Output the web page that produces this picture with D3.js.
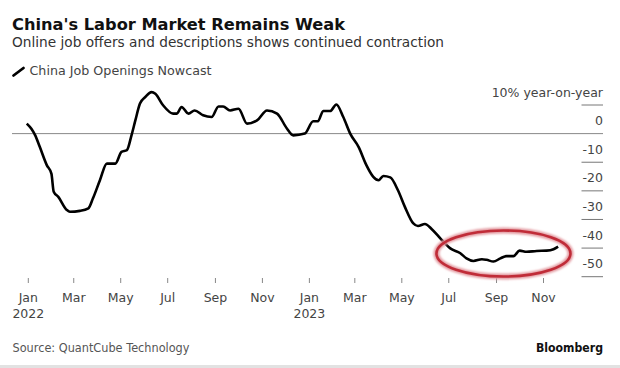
<!DOCTYPE html>
<html>
<head>
<meta charset="utf-8">
<script src="https://cdn.jsdelivr.net/npm/d3@7.9.0/dist/d3.min.js"></script>
<style>
  html, body { margin: 0; padding: 0; background: #fff; }
  svg { display: block; font-family: "DejaVu Sans", sans-serif; }
</style>
</head>
<body>
<div id="chart"></div>
<script>
// values (% year-on-year)
const dates = [
  "2021-12-30","2022-01-05","2022-01-10","2022-01-16","2022-01-25","2022-01-31",
  "2022-02-03","2022-02-09","2022-02-20","2022-02-24","2022-03-09","2022-03-20",
  "2022-03-26","2022-04-04","2022-04-13","2022-04-24","2022-05-02","2022-05-09",
  "2022-05-15","2022-05-20","2022-05-26","2022-06-02","2022-06-10","2022-06-15",
  "2022-06-25","2022-07-08","2022-07-13","2022-07-19","2022-07-28","2022-08-05",
  "2022-08-16","2022-08-27","2022-09-05","2022-09-11","2022-09-20","2022-10-01",
  "2022-10-12","2022-10-25","2022-11-07","2022-11-20","2022-12-03","2022-12-11",
  "2022-12-26","2023-01-06","2023-01-12","2023-01-19","2023-01-28","2023-02-05",
  "2023-02-14","2023-02-23","2023-03-06","2023-03-16","2023-03-25","2023-04-01",
  "2023-04-07","2023-04-16","2023-04-26","2023-05-05","2023-05-16","2023-05-22",
  "2023-05-31","2023-06-09","2023-06-20","2023-07-03","2023-07-16","2023-07-24",
  "2023-08-02","2023-08-13","2023-08-19","2023-08-28","2023-09-06","2023-09-14",
  "2023-09-23","2023-10-01","2023-10-10","2023-10-23","2023-11-05","2023-11-14",
  "2023-11-20"
];
const nowcast = [
  3.5, 1.7, -0.6, -4.7, -11, -14,
  -20.3, -22.1, -26.7, -27.3, -27, -26.1,
  -22.6, -16.3, -10.5, -10.5, -6.4, -5.8,
  -0.6, 4.6, 10.5, 12.8, 14.5, 13.9,
  9.9, 7, 7, 9.3, 7, 8.1,
  6.4, 5.8, 9.5, 9.5, 8.1, 8.7,
  3.5, 4.6, 8.1, 7, 1.7, -0.6,
  0, 4.3, 4.3, 7.9, 7.9, 10.2,
  5.8, 0, -4.7, -11, -15.1, -16.3,
  -14.8, -15.3, -19.8, -25.6, -31.4, -32.3,
  -31.6, -33.4, -36.6, -40.1, -41.8, -43.6,
  -44.5, -43.9, -44.1, -44.7, -43.6, -42.8,
  -42.8, -40.9, -41.3, -41, -40.9, -40.4,
  -39.5
];
const yTicks = [10, 0, -10, -20, -30, -40, -50];
const xTicks = ["2022-01-01","2022-03-01","2022-05-01","2022-07-01","2022-09-01","2022-11-01",
                "2023-01-01","2023-03-01","2023-05-01","2023-07-01","2023-09-01","2023-11-01"];

const width = 620, height = 368;
const parse = d3.timeParse("%Y-%m-%d");
const data = dates.map((d, i) => ({ date: parse(d), value: nowcast[i] }));

const x = d3.scaleTime()
  .domain([parse("2022-01-01"), parse("2023-11-01")])
  .range([28.3, 543.5]);
const y = d3.scaleLinear()
  .domain([-50, 10])
  .range([276.7, 105]);

const svg = d3.select("#chart").append("svg")
  .attr("width", width)
  .attr("height", height);

svg.append("defs").append("filter")
  .attr("id", "soft")
  .append("feGaussianBlur").attr("stdDeviation", 1.2);

// headings
svg.append("text")
  .attr("x", 12).attr("y", 29.5)
  .attr("textLength", 333).attr("lengthAdjust", "spacingAndGlyphs")
  .style("font-size", "16px").style("font-weight", "bold").attr("fill", "#111")
  .text("China's Labor Market Remains Weak");

svg.append("text")
  .attr("x", 12).attr("y", 47)
  .attr("textLength", 432).attr("lengthAdjust", "spacingAndGlyphs")
  .style("font-size", "14px").attr("fill", "#333")
  .text("Online job offers and descriptions shows continued contraction");

// legend
svg.append("line")
  .attr("x1", 13.5).attr("y1", 75.5).attr("x2", 23.5).attr("y2", 68)
  .attr("stroke", "#000").attr("stroke-width", 2.8).attr("stroke-linecap", "round");
svg.append("text")
  .attr("x", 29.5).attr("y", 74.5)
  .attr("textLength", 182).attr("lengthAdjust", "spacingAndGlyphs")
  .style("font-size", "12.5px").attr("fill", "#444")
  .text("China Job Openings Nowcast");

// zero line
svg.append("line")
  .attr("x1", 12).attr("x2", 603)
  .attr("y1", y(0)).attr("y2", y(0))
  .attr("stroke", "#888").attr("stroke-width", 1);

// right axis: short ticks with label sitting above each one
const yAxis = svg.append("g");
yAxis.selectAll("line")
  .data(yTicks.filter(d => d !== 0))
  .enter().append("line")
  .attr("x1", 581.5).attr("x2", 603)
  .attr("y1", d => y(d)).attr("y2", d => y(d))
  .attr("stroke", "#777").attr("stroke-width", 1);
yAxis.selectAll("text")
  .data(yTicks)
  .enter().append("text")
  .attr("x", 603)
  .attr("y", d => y(d) - 8.5)
  .attr("text-anchor", "end")
  .style("font-size", "12.5px").attr("fill", "#444")
  .text(d => d === 10 ? "10% year-on-year" : d);

// bottom axis
const xAxis = svg.append("g");
xTicks.forEach(s => {
  const d = parse(s);
  xAxis.append("line")
    .attr("x1", x(d)).attr("x2", x(d))
    .attr("y1", 278).attr("y2", 283)
    .attr("stroke", "#888").attr("stroke-width", 1);
  xAxis.append("text")
    .attr("x", x(d)).attr("y", 301.5)
    .attr("text-anchor", "middle")
    .style("font-size", "12.5px").attr("fill", "#444")
    .text(d3.timeFormat("%b")(d));
  if (d.getMonth() === 0) {
    xAxis.append("text")
      .attr("x", x(d)).attr("y", 318)
      .attr("text-anchor", "middle")
      .style("font-size", "12.5px").attr("fill", "#444")
      .text(d3.timeFormat("%Y")(d));
  }
});

// the series
const line = d3.line()
  .x(d => x(d.date))
  .y(d => y(d.value))
  .curve(d3.curveMonotoneX);

svg.append("path")
  .datum(data)
  .attr("d", line)
  .attr("fill", "none")
  .attr("stroke", "#000")
  .attr("stroke-width", 2.6)
  .attr("stroke-linejoin", "round");

// red ellipse around the recent lows
const cx = x(parse("2023-09-10")), cy = y(-41.9);
svg.append("ellipse")
  .attr("cx", cx).attr("cy", cy).attr("rx", 67).attr("ry", 23)
  .attr("fill", "none").attr("stroke", "#e39aa0").attr("stroke-width", 6)
  .attr("filter", "url(#soft)");
svg.append("ellipse")
  .attr("cx", cx).attr("cy", cy).attr("rx", 67).attr("ry", 23)
  .attr("fill", "none").attr("stroke", "#c02c38").attr("stroke-width", 2.6);

// footer
svg.append("text")
  .attr("x", 12.5).attr("y", 352)
  .attr("textLength", 177).attr("lengthAdjust", "spacingAndGlyphs")
  .style("font-size", "12.5px").attr("fill", "#555")
  .text("Source: QuantCube Technology");
svg.append("text")
  .attr("x", 603).attr("y", 351.5)
  .attr("text-anchor", "end")
  .attr("textLength", 67).attr("lengthAdjust", "spacingAndGlyphs")
  .style("font-size", "12.5px").style("font-weight", "bold").attr("fill", "#111")
  .text("Bloomberg");

svg.append("rect")
  .attr("x", 0).attr("y", 365).attr("width", width).attr("height", 3)
  .attr("fill", "#e2e2e2");
</script>
</body>
</html>
